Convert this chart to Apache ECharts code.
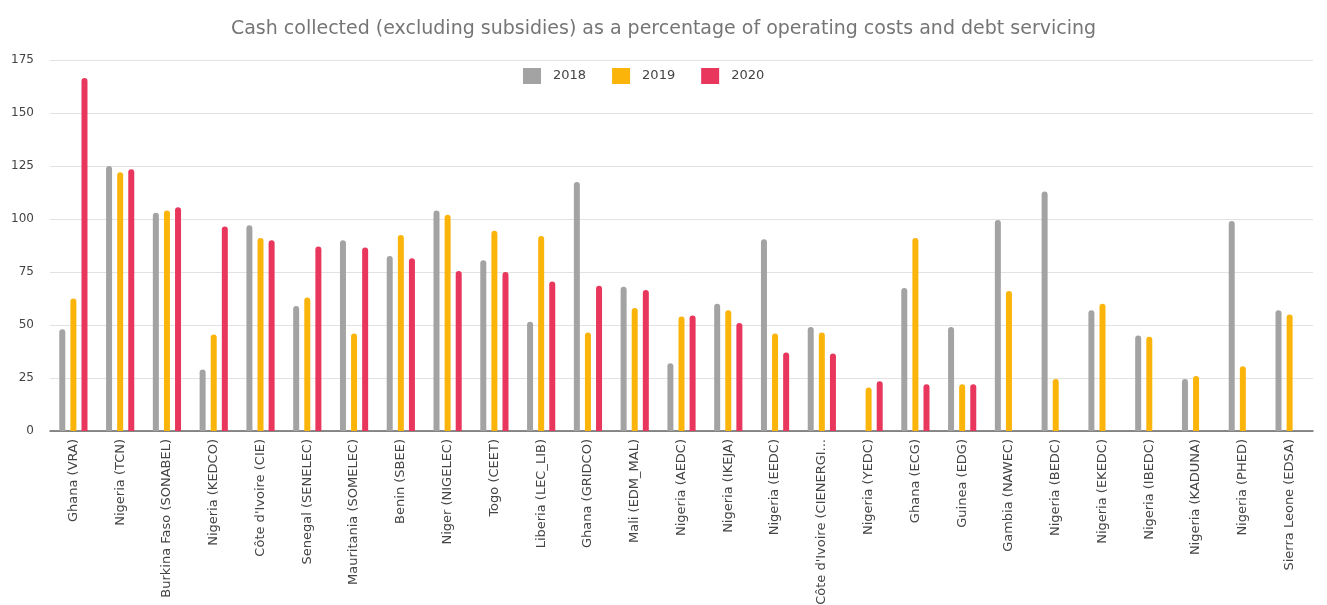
<!DOCTYPE html>
<html>
<head>
<meta charset="utf-8">
<script src="https://cdn.jsdelivr.net/npm/echarts@6/dist/echarts.min.js"></script>
<style>html,body{margin:0;padding:0;background:#fff;}#c{width:1327px;height:605px;}</style>
</head>
<body>
<div id="c"></div>
<script>
const categories = ["Ghana (VRA)","Nigeria (TCN)","Burkina Faso (SONABEL)","Nigeria (KEDCO)","Côte d'Ivoire (CIE)","Senegal (SENELEC)","Mauritania (SOMELEC)","Benin (SBEE)","Niger (NIGELEC)","Togo (CEET)","Liberia (LEC_LIB)","Ghana (GRIDCO)","Mali (EDM_MAL)","Nigeria (AEDC)","Nigeria (IKEJA)","Nigeria (EEDC)","Côte d'Ivoire (CIENERGIE)","Nigeria (YEDC)","Ghana (ECG)","Guinea (EDG)","Gambia (NAWEC)","Nigeria (BEDC)","Nigeria (EKEDC)","Nigeria (IBEDC)","Nigeria (KADUNA)","Nigeria (PHED)","Sierra Leone (EDSA)"];
const values2018 = [48,125,103,29,97,59,90,82.5,104,80.5,51.5,117.5,68,32,60,90.5,49,null,67.5,49,99.5,113,57,45,24.5,99,57];
const values2019 = [62.5,122,104,45.5,91,63,46,92.5,102,94.5,92,46.5,58,54,57,46,46.5,20.5,91,22,66,24.5,60,44.5,26,30.5,55];
const values2020 = [166.5,123.5,105.5,96.5,90,87,86.5,81.5,75.5,75,70.5,68.5,66.5,54.5,51,37,36.5,23.5,22,22,null,null,null,null,null,null,null];
const seriesNames = ["2018","2019","2020"];
const yTicks = {min:0, max:175, interval:25};

const colors = ["#a3a3a3","#fbb40a","#e8365d"];
const FONT = 'DejaVu Sans, Verdana, sans-serif';
const chart = echarts.init(document.getElementById('c'));
const all = [values2018, values2019, values2020];
chart.setOption({
  animation:false,
  color: colors,
  title:{
    text:"Cash collected (excluding subsidies) as a percentage of operating costs and debt servicing",
    left:'center', top:15,
    textStyle:{fontFamily:FONT, fontSize:19, fontWeight:'normal', color:'#757575'}
  },
  legend:{
    data:seriesNames, left:518, top:63,
    itemWidth:18, itemHeight:16, itemGap:26,
    icon:'rect',
    textStyle:{fontFamily:FONT, fontSize:13, color:'#444', padding:[0,0,0,7]}
  },
  grid:{left:50, right:14, top:60, bottom:174, containLabel:false, outerBoundsMode:'none'},
  xAxis:{
    type:'category', data:categories,
    axisTick:{show:false},
    axisLine:{lineStyle:{color:'#666', width:1.5}},
    axisLabel:{
      interval:0, rotate:90, fontSize:13, color:'#444', margin:8,
      fontFamily:FONT,
      formatter: v => v.length > 24 ? v.slice(0,23) + '...' : v
    }
  },
  yAxis:{
    type:'value', min:yTicks.min, max:yTicks.max, interval:yTicks.interval,
    axisLine:{show:false}, axisTick:{show:false},
    axisLabel:{fontSize:12, color:'#444', margin:16, fontFamily:FONT},
    splitLine:{lineStyle:{color:'#e2e2e2', width:1}}
  },
  series: seriesNames.map((n,i)=>({
    name:n, type:'bar', data:all[i],
    barWidth:6, barGap:'85%',
    itemStyle:{borderRadius:[3,3,0,0]}
  }))
});
</script>
</body>
</html>
